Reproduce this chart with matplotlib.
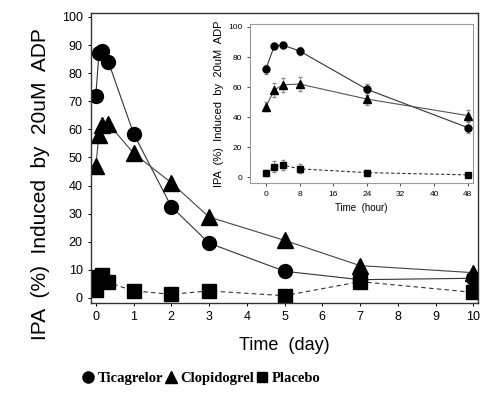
import numpy as np
import matplotlib
matplotlib.use("Agg")
import matplotlib.pyplot as plt
from matplotlib.lines import Line2D

# main panel, time in days (2h, 4h, 8h points near zero)
days = [0, 2 / 24, 4 / 24, 8 / 24, 1, 2, 3, 5, 7, 10]
tica_day = [72, 87, 88, 84, 58.5, 32.5, 19.5, 9.5, 6.5, 7]
clop_day = [47, 58, 61.5, 62, 51.5, 41, 28.8, 20.5, 11.5, 9]
plac_day = [3, 7.5, 8, 5.5, 2.5, 1.3, 2.5, 0.8, 5.8, 2]

# inset, time in hours
hours = [0, 2, 4, 8, 24, 48]
tica_hr = [72, 87.5, 88, 84, 58.5, 33]
clop_hr = [47, 58, 61.5, 62, 52, 41]
plac_hr = [3, 7, 8, 5.5, 3, 1.5]
tica_err = [3, 2, 2, 2.5, 3.5, 3.5]
clop_err = [3, 4.5, 4.5, 4.5, 4, 3.5]
plac_err = [2, 3.5, 3.5, 3, 2, 1.5]

main_ticks = list(range(0, 11))
inset_ticks = [0, 8, 16, 24, 32, 40, 48]

sans = "Liberation Sans"

fig = plt.figure(figsize=(4.94, 3.93), dpi=100)
ax = fig.add_axes([0.184, 0.229, 0.784, 0.738])

ax.plot(days, tica_day, color="#333333", lw=0.8, marker="o", ms=10, mfc="black", mec="black")
ax.plot(days, clop_day, color="#444444", lw=0.8, marker="^", ms=11, mfc="black", mec="black")
ax.plot(days, plac_day, color="#333333", lw=0.8, ls=(0, (4, 3)), marker="s", ms=10, mfc="black", mec="black")

ax.set_xlim(-0.13, 10.13)
ax.set_ylim(-1.8, 101.4)
ax.set_xticks(main_ticks)
ax.set_yticks(range(0, 101, 10))
ax.tick_params(labelsize=9, length=2.5, width=0.7, direction="out")
for lab in ax.get_xticklabels() + ax.get_yticklabels():
    lab.set_family(sans)
for sp in ax.spines.values():
    sp.set_color("#333333")
    sp.set_linewidth(1.0)
ax.set_xlabel("Time  (day)", fontsize=13, family=sans, labelpad=10)
ax.set_ylabel("IPA  (%)  Induced  by  20uM  ADP", fontsize=15, family=sans, labelpad=8, y=0.41)

# inset
ins = fig.add_axes([0.506, 0.534, 0.451, 0.405])
ins.errorbar(hours, tica_hr, yerr=tica_err, color="#333333", lw=0.8, marker="o", ms=5,
             mfc="black", mec="black", ecolor="#888888", elinewidth=0.6, capsize=1.5)
ins.errorbar(hours, clop_hr, yerr=clop_err, color="#555555", lw=0.8, marker="^", ms=5.5,
             mfc="black", mec="black", ecolor="#888888", elinewidth=0.6, capsize=1.5)
ins.errorbar(hours, plac_hr, yerr=plac_err, color="#333333", lw=0.8, ls=(0, (3, 2)), marker="s", ms=5,
             mfc="black", mec="black", ecolor="#888888", elinewidth=0.6, capsize=1.5)
ins.set_xlim(-3.8, 49.2)
ins.set_ylim(-4, 102)
ins.set_xticks(inset_ticks)
ins.set_yticks(range(0, 101, 20))
ins.tick_params(labelsize=6, length=2, width=0.5, direction="out")
for lab in ins.get_xticklabels() + ins.get_yticklabels():
    lab.set_family(sans)
for sp in ins.spines.values():
    sp.set_color("#999999")
    sp.set_linewidth(0.8)
ins.set_xlabel("Time  (hour)", fontsize=7, family=sans, labelpad=4)
ins.set_ylabel("IPA  (%)  Induced  by  20uM  ADP", fontsize=8, family=sans, labelpad=3)

# legend at bottom
handles = [
    Line2D([], [], ls="none", marker="o", ms=8, color="black"),
    Line2D([], [], ls="none", marker="^", ms=9, color="black"),
    Line2D([], [], ls="none", marker="s", ms=7, color="black"),
]
fig.legend(handles, ["Ticagrelor", "Clopidogrel", "Placebo"], loc="center left",
           bbox_to_anchor=(0.14, 0.038), ncol=3, frameon=False, handlelength=0.8,
           handletextpad=0.25, columnspacing=0.15,
           prop={"family": "Liberation Serif", "weight": "bold", "size": 10.5})

fig.savefig("out.png", dpi=100)
